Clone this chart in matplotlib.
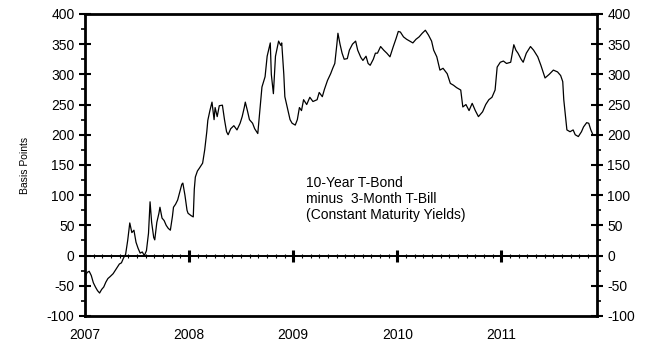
import numpy as np
import matplotlib.pyplot as plt
from matplotlib.ticker import MultipleLocator

plt.rcParams['font.family'] = ['Liberation Sans', 'DejaVu Sans']
plt.rcParams['axes.unicode_minus'] = False

# spread readings: decimal year, basis points
t = [2007.00, 2007.02, 2007.04, 2007.06, 2007.08, 2007.10, 2007.12, 2007.14, 2007.16, 2007.18,
     2007.20, 2007.22, 2007.24, 2007.27, 2007.30, 2007.33, 2007.35, 2007.37, 2007.39, 2007.41,
     2007.43, 2007.45, 2007.47, 2007.49, 2007.51, 2007.53, 2007.55, 2007.57, 2007.59, 2007.61,
     2007.625, 2007.64, 2007.66, 2007.67, 2007.69, 2007.71, 2007.72, 2007.74, 2007.76, 2007.78,
     2007.80, 2007.82, 2007.84, 2007.85, 2007.87, 2007.89, 2007.91, 2007.93, 2007.94, 2007.96,
     2007.98, 2007.99, 2008.02, 2008.04, 2008.05, 2008.06, 2008.08, 2008.10, 2008.13, 2008.15,
     2008.17, 2008.18, 2008.20, 2008.22, 2008.24, 2008.25, 2008.27, 2008.29, 2008.32, 2008.34,
     2008.36, 2008.375, 2008.40, 2008.43, 2008.46, 2008.49, 2008.51, 2008.53, 2008.54, 2008.56,
     2008.58, 2008.61, 2008.63, 2008.66, 2008.68, 2008.70, 2008.73, 2008.75, 2008.78, 2008.79,
     2008.81, 2008.83, 2008.86, 2008.88, 2008.89, 2008.91, 2008.92, 2008.95, 2008.97, 2008.99,
     2009.02, 2009.04, 2009.06, 2009.08, 2009.10, 2009.13, 2009.16, 2009.19, 2009.23, 2009.25,
     2009.28, 2009.30, 2009.33, 2009.36, 2009.38, 2009.40, 2009.42, 2009.43, 2009.45, 2009.47,
     2009.49, 2009.52, 2009.54, 2009.57, 2009.60, 2009.62, 2009.65, 2009.67, 2009.70, 2009.72,
     2009.74, 2009.77, 2009.79, 2009.81, 2009.84, 2009.87, 2009.90, 2009.93, 2009.96, 2009.99,
     2010.01, 2010.03, 2010.06, 2010.09, 2010.12, 2010.15, 2010.18, 2010.21, 2010.24, 2010.27,
     2010.30, 2010.33, 2010.35, 2010.38, 2010.41, 2010.44, 2010.48, 2010.51, 2010.54, 2010.57,
     2010.61, 2010.63, 2010.66, 2010.69, 2010.72, 2010.75, 2010.78, 2010.80, 2010.82, 2010.85,
     2010.88, 2010.91, 2010.94, 2010.96, 2010.99, 2011.02, 2011.05, 2011.09, 2011.12, 2011.14,
     2011.16, 2011.19, 2011.21, 2011.24, 2011.28, 2011.31, 2011.35, 2011.38, 2011.42, 2011.46,
     2011.50, 2011.54, 2011.57, 2011.59, 2011.60, 2011.62, 2011.63, 2011.66, 2011.69, 2011.71,
     2011.74, 2011.77, 2011.79, 2011.82, 2011.84, 2011.86, 2011.875]
spread = [-35, -28, -26, -33, -45, -52, -58, -62, -56, -52,
          -44, -38, -35, -30, -22, -14, -12, -4, 2, 25,
          54, 38, 42, 22, 12, 4, 6, 0, 8, 37,
          89, 55, 30, 26, 55, 70, 80, 62, 58, 50,
          45, 42, 65, 80, 85, 92, 105, 118, 120, 100,
          75, 70, 66, 64, 110, 130, 140, 145, 153, 175,
          205, 224, 240, 254, 225, 245, 230, 248, 249, 225,
          205, 200, 210, 215, 208, 219, 230, 245, 254, 240,
          225, 219, 210, 202, 240, 279, 296, 330, 352, 300,
          268, 330, 355, 348, 352, 300, 263, 240, 225, 219,
          216, 225, 245, 240, 258, 250, 262, 255, 258, 270,
          263, 275, 290, 301, 310, 318, 350, 368, 350, 335,
          325, 326, 340, 350, 355, 340, 328, 323, 330, 318,
          315, 325, 335, 335, 346, 340, 335, 329, 345, 360,
          371, 370, 362, 358, 355, 352, 358, 362, 368, 373,
          365, 355, 340, 329, 307, 310, 301, 285, 282, 278,
          274, 246, 250, 240, 252, 240, 230, 234, 238, 250,
          258, 262, 274, 312, 320, 322, 318, 320, 349, 340,
          335, 325, 320, 335, 346, 340, 329, 315, 294, 300,
          307, 304, 298, 288, 258, 225, 208, 205, 208, 200,
          197, 205, 213, 220, 219, 208, 202]

years = [2007, 2008, 2009, 2010, 2011]
year_labels = ['2007', '2008', '2009', '2010', '2011']
months = np.arange(2007, 2011.92, 1 / 12)

fig = plt.figure(figsize=(6.49, 3.48), dpi=100)
ax = fig.add_axes([0.131, 0.092, 0.789, 0.868])

ax.plot(t, spread, color='black', lw=0.9)

# zero line with year and month marks sitting on it
ax.axhline(0, color='black', lw=1.4)
ax.plot(months, np.zeros_like(months), ls='none', marker='|', ms=3, mew=0.8, color='black')
ax.plot(years[1:], [0] * 4, ls='none', marker='|', ms=9, mew=2.2, color='black')

ax.set_xlim(2007, 2011.92)
ax.set_ylim(-100, 400)

for s in ax.spines.values():
    s.set_linewidth(2)

ax.set_xticks(years)
ax.set_xticklabels(year_labels, fontsize=10)
ax.tick_params(axis='x', length=0, pad=9)

ax.yaxis.set_major_locator(MultipleLocator(50))
ax.yaxis.set_minor_locator(MultipleLocator(25))
ax.tick_params(axis='y', which='major', direction='inout', length=8, width=1.5,
               labelsize=10, left=True, right=True, labelleft=True, labelright=True)
ax.tick_params(axis='y', which='minor', direction='out', length=3, width=1.2,
               left=True, right=True)

ax.set_ylabel('Basis Points', fontsize=7.5, labelpad=12)

ax.text(2009.12, 94, '10-Year T-Bond\nminus  3-Month T-Bill\n(Constant Maturity Yields)',
        fontsize=10, ha='left', va='center', linespacing=1.2)

fig.savefig('out.png', dpi=100)
